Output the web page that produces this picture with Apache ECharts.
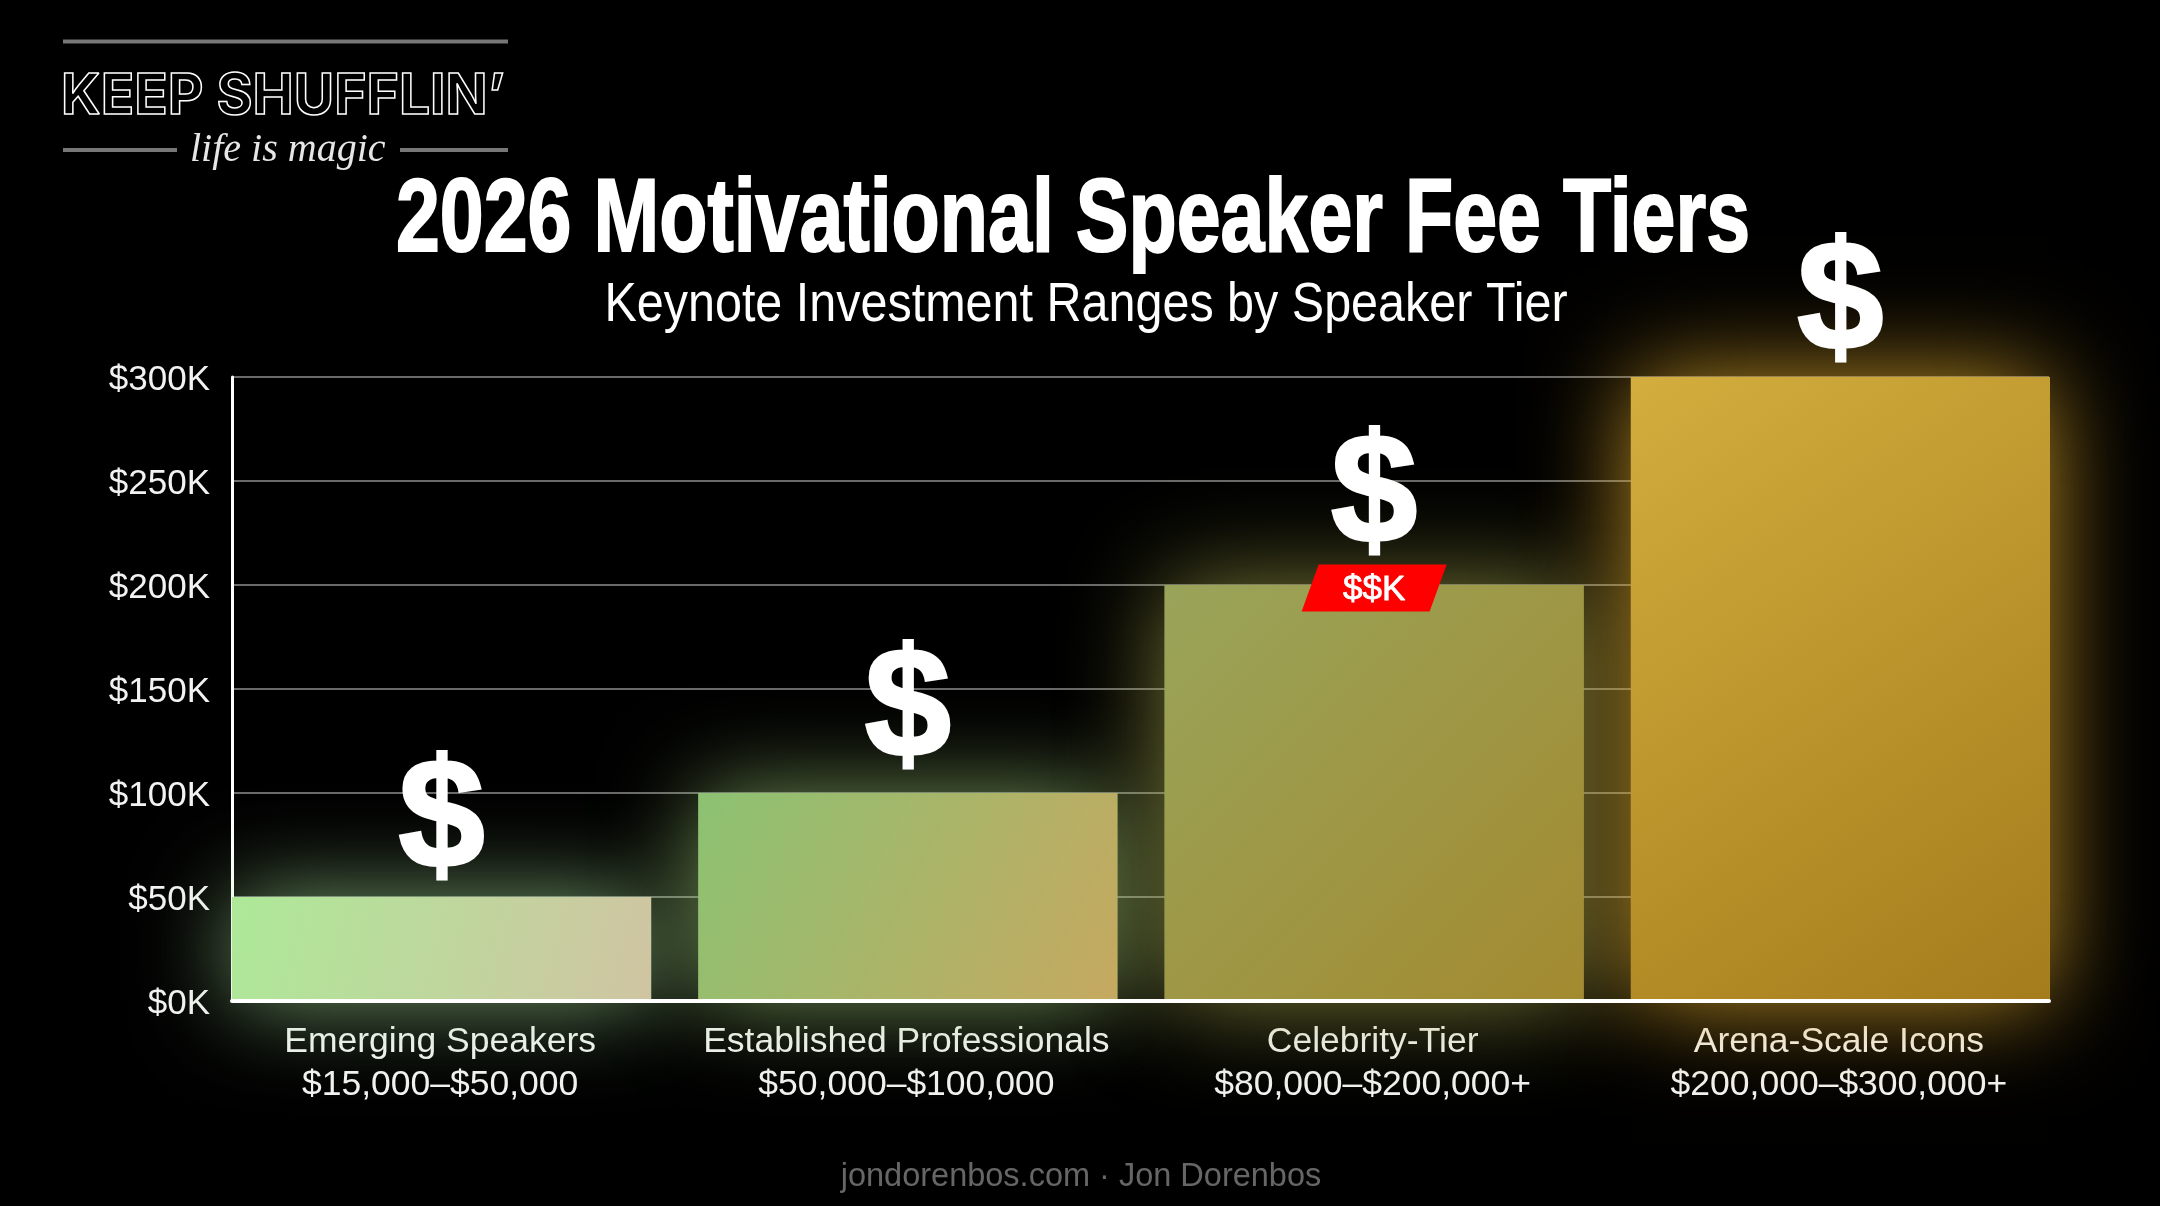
<!DOCTYPE html>
<html>
<head>
<meta charset="utf-8">
<title>2026 Motivational Speaker Fee Tiers</title>
<style>
html, body { margin: 0; padding: 0; background: #000; }
#chart { width: 2160px; height: 1206px; }
</style>
<script src="https://cdn.jsdelivr.net/npm/echarts@6/dist/echarts.min.js"></script>
</head>
<body>
<div id="chart"></div>
<script>
var tierNames = ['Emerging Speakers', 'Established Professionals', 'Celebrity-Tier', 'Arena-Scale Icons'];
var tierRanges = ['$15,000–$50,000', '$50,000–$100,000', '$80,000–$200,000+', '$200,000–$300,000+'];
var tierTops = [50000, 100000, 200000, 300000];
var yTickLabels = ['$0K', '$50K', '$100K', '$150K', '$200K', '$250K', '$300K'];

var titleText = '2026 Motivational Speaker Fee Tiers';
var subtitleText = 'Keynote Investment Ranges by Speaker Tier';
var footerText = 'jondorenbos.com · Jon Dorenbos';

var barColors = [
	['#ade998', '#d0c4a2'],
	['#8cc272', '#c6a860'],
	['#99a45a', '#a38a30'],
	['#d3ad3d', '#a47c1c']
];
var glowColors = ['rgba(170,225,155,0.7)', 'rgba(165,210,125,0.7)', 'rgba(175,175,80,0.72)', 'rgba(225,170,45,0.85)'];
var dollarOffsets = [10, 3, -3, 12]; // gap between the bar top and its $ sign

var myChart = echarts.init(document.getElementById('chart'));

var sans = '"Liberation Sans", Arial, sans-serif';

var plotTop = 377, plotBottom = 1206 - 1001;

var option = {
	backgroundColor: '#000',
	animation: false,
	title: [
		{ text: footerText, left: 1076, top: 1156, textAlign: 'center',
			textStyle: { fontFamily: sans, fontWeight: 'normal', fontSize: 32.5, color: '#666' } }
	],
	grid: [
		// grid 0 carries the axis lines and gridlines, grid 1 the wider category bands
		{ left: 232, right: 2160 - 2049, top: plotTop, bottom: plotBottom },
		{ left: 208.5, right: 2160 - 2073.5, top: plotTop, bottom: plotBottom }
	],
	xAxis: [
		{ type: 'value', gridIndex: 0, min: 0, max: 1, z: 5,
			axisLabel: { show: false }, axisTick: { show: false }, splitLine: { show: false },
			axisLine: { show: true, lineStyle: { color: '#fff', width: 4 } } },
		{ type: 'category', gridIndex: 1,
			data: tierNames.map(function (n, i) { return n + '\n' + tierRanges[i]; }),
			axisLine: { show: false }, axisTick: { show: false },
			axisLabel: { interval: 0, color: '#f2f2f2', fontFamily: sans, fontSize: 35.5, lineHeight: 43, margin: 20, padding: [0, 3, 0, 0] } }
	],
	yAxis: [
		{ type: 'value', gridIndex: 0, min: 0, max: 300000, interval: 50000,
			axisTick: { show: false },
			axisLine: { show: true, lineStyle: { color: '#fff', width: 3 } },
			splitLine: { lineStyle: { color: '#6a6a6a', width: 2 } },
			// labels sit a touch below their gridlines in the reference
			axisLabel: { color: '#f2f2f2', fontFamily: sans, fontSize: 35, margin: 22, verticalAlign: 'top', lineHeight: 6,
				formatter: function (v) { return yTickLabels[v / 50000]; } } },
		{ type: 'value', gridIndex: 1, min: 0, max: 300000, interval: 50000, show: false }
	],
	series: [
		{ // glow goes underneath, so a bar's shadow never tints its neighbour
			type: 'bar', xAxisIndex: 1, yAxisIndex: 1, barWidth: 419, barGap: '-100%', z: 2, silent: true,
			data: tierTops.map(function (v, i) {
				return { value: v, itemStyle: { color: barColors[i][0], shadowBlur: 95, shadowColor: glowColors[i] } };
			})
		},
		{
			type: 'bar', xAxisIndex: 1, yAxisIndex: 1, barWidth: 419, barGap: '-100%', z: 3,
			data: tierTops.map(function (v, i) {
				return {
					value: v,
					itemStyle: {
						color: new echarts.graphic.LinearGradient(0, 0, 1, 1, [
							{ offset: 0, color: barColors[i][0] },
							{ offset: 1, color: barColors[i][1] }
						])
					},
					label: {
						show: true, position: 'top', formatter: '$', offset: [0, dollarOffsets[i]],
						color: '#fff', fontFamily: sans, fontWeight: 'bold', fontSize: 155,
						textBorderColor: '#fff', textBorderWidth: 3
					}
				};
			}),
			markPoint: {
				silent: true,
				symbol: 'path://M17,0 L145,0 L128,47 L0,47 Z',
				symbolSize: [145, 47],
				symbolOffset: [0, 3],
				itemStyle: { color: '#ff0000' },
				label: { show: true, position: 'inside', offset: [0, 2], formatter: '$$K', color: '#fff', fontFamily: sans, fontSize: 35,
					textBorderColor: '#fff', textBorderWidth: 0.8 },
				data: [{ coord: [2, 200000] }]
			}
		}
	],
	graphic: [
		// title and subtitle: no condensed face is installed, so the text is squeezed horizontally
		{ type: 'text', x: 1073, y: 222, scaleX: 0.759, style: {
			text: titleText, font: 'bold 104px "Liberation Sans", sans-serif', align: 'center', verticalAlign: 'middle',
			fill: '#fff', stroke: '#fff', lineWidth: 2 } },
		{ type: 'text', x: 1086, y: 306, scaleX: 0.866, style: {
			text: subtitleText, font: '56px "Liberation Sans", sans-serif', align: 'center', verticalAlign: 'middle', fill: '#fff' } },
		// logo
		{ type: 'rect', shape: { x: 63, y: 39.5, width: 445, height: 4 }, style: { fill: '#777' } },
		{ type: 'rect', shape: { x: 63, y: 148, width: 114, height: 4 }, style: { fill: '#777' } },
		{ type: 'rect', shape: { x: 400, y: 148, width: 108, height: 4 }, style: { fill: '#777' } },
		{ type: 'text', x: 61, y: 97, scaleX: 0.985, style: {
			text: 'KEEP SHUFFLIN’', font: 'bold 56px Inter, sans-serif', verticalAlign: 'middle',
			fill: 'rgba(0,0,0,0)', stroke: '#fff', lineWidth: 1.5 } },
		{ type: 'text', x: 190, y: 150, style: {
			text: 'life is magic', font: 'italic 40px "Liberation Serif", serif', verticalAlign: 'middle', fill: '#e6e6e6' } }
	]
};
myChart.setOption(option);
</script>
</body>
</html>
